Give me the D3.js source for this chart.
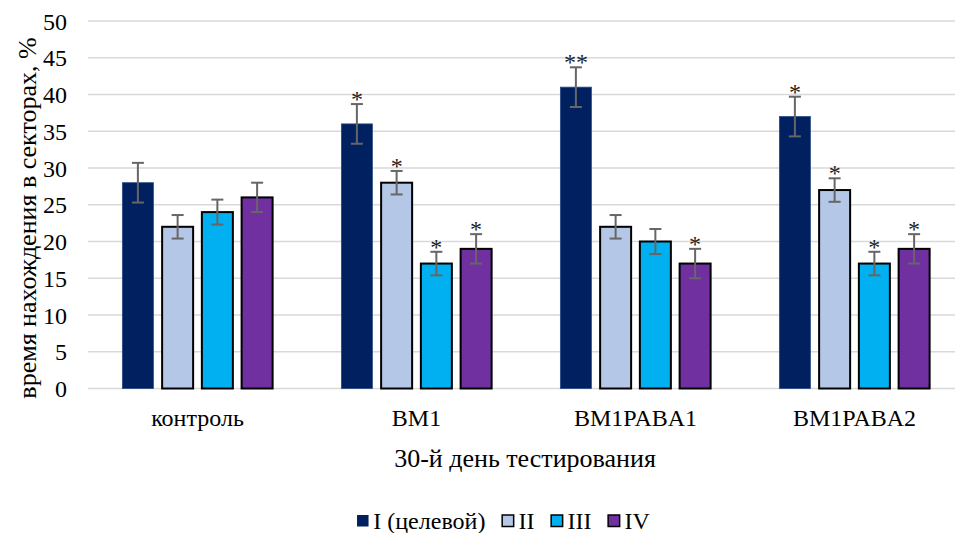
<!DOCTYPE html>
<html>
<head>
<meta charset="utf-8">
<script src="https://cdn.jsdelivr.net/npm/d3@7"></script>
<style>
  html, body { margin: 0; padding: 0; background: #fff; }
  svg { display: block; }
</style>
</head>
<body>
<svg id="chart" width="955" height="533"></svg>
<script>
// Groups on the x axis and the four sector series
const categories = ["контроль", "BM1", "BM1PABA1", "BM1PABA2"];
const seriesNames = ["I (целевой)", "II", "III", "IV"];

// Mean time in sector, %
const valuesI   = [28, 36, 41, 37];
const valuesII  = [22, 28, 22, 27];
const valuesIII = [24, 17, 20, 17];
const valuesIV  = [26, 19, 17, 19];

// Error (±) per bar
const errI   = [2.7, 2.7, 2.7, 2.7];
const errII  = [1.6, 1.6, 1.6, 1.6];
const errIII = [1.7, 1.6, 1.7, 1.6];
const errIV  = [2.0, 2.0, 2.0, 2.0];

// Significance marks above bars
const marksI   = ["", "*", "**", "*"];
const marksII  = ["", "*", "", "*"];
const marksIII = ["", "*", "", "*"];
const marksIV  = ["", "*", "*", "*"];

const yTicks = [0, 5, 10, 15, 20, 25, 30, 35, 40, 45, 50];
const yTitle = "время нахождения в секторах, %";
const xTitle = "30-й день тестирования";

const colors = ["#002060", "#B4C7E7", "#00B0F0", "#7030A0"];
const strokes = ["none", "#000", "#000", "#000"];

const allValues = [valuesI, valuesII, valuesIII, valuesIV];
const allErr = [errI, errII, errIII, errIV];
const allMarks = [marksI, marksII, marksIII, marksIV];

const serif = "Liberation Serif";

const svg = d3.select("#chart");
const plotLeft = 88, plotRight = 964, plotTop = 21, plotBottom = 388.5;

const y = d3.scaleLinear().domain([0, 50]).range([plotBottom, plotTop]);
const x0 = d3.scaleBand().domain(categories).range([plotLeft, plotRight]).padding(0);
const bw = x0.bandwidth();
const x1 = d3.scaleBand().domain(seriesNames)
  .range([bw * 0.157, bw * 0.843]).paddingInner(0.22).paddingOuter(0);

// Gridlines
svg.append("g").selectAll("line").data(yTicks).join("line")
  .attr("x1", plotLeft).attr("x2", 955)
  .attr("y1", d => y(d)).attr("y2", d => y(d))
  .attr("stroke", "#d9d9d9").attr("stroke-width", 1.6);

// Y tick labels
const yAxis = d3.axisLeft(y).tickValues(yTicks).tickSize(0).tickPadding(0);
const gy = svg.append("g").attr("transform", "translate(67,0)").call(yAxis);
gy.attr("font-family", serif).attr("font-size", 24);
gy.select(".domain").remove();
gy.selectAll("text").attr("fill", "#000").attr("dy", "0.34em");

// Bars
const rows = [];
categories.forEach((c, ci) => {
  seriesNames.forEach((s, si) => {
    rows.push({ c, s, si, v: allValues[si][ci], e: allErr[si][ci], m: allMarks[si][ci] });
  });
});

svg.append("g").selectAll("rect").data(rows).join("rect")
  .attr("x", d => x0(d.c) + x1(d.s))
  .attr("y", d => y(d.v))
  .attr("width", x1.bandwidth())
  .attr("height", d => y(0) - y(d.v))
  .attr("fill", d => colors[d.si])
  .attr("stroke", d => d.si === 0 ? "#2a4a85" : "#000")
  .attr("stroke-width", d => d.si === 0 ? 0.8 : 2);

// Error bars
const eb = svg.append("g").attr("stroke", "#666").attr("stroke-width", 2);
rows.forEach(d => {
  const cx = x0(d.c) + x1(d.s) + x1.bandwidth() / 2;
  const y1 = y(d.v + d.e), y2 = y(d.v - d.e);
  eb.append("line").attr("x1", cx).attr("x2", cx).attr("y1", y1).attr("y2", y2);
  eb.append("line").attr("x1", cx - 6).attr("x2", cx + 6).attr("y1", y1).attr("y2", y1);
  eb.append("line").attr("x1", cx - 6).attr("x2", cx + 6).attr("y1", y2).attr("y2", y2);
});

// Significance marks
svg.append("g").selectAll("text").data(rows.filter(d => d.m)).join("text")
  .attr("x", d => x0(d.c) + x1(d.s) + x1.bandwidth() / 2)
  .attr("y", d => y(d.v + d.e) + 3)
  .attr("text-anchor", "middle")
  .attr("font-family", serif)
  .attr("font-size", 24)
  .attr("fill", "#222")
  .text(d => d.m);

// Category labels
svg.append("g").selectAll("text").data(categories).join("text")
  .attr("x", d => x0(d) + bw / 2)
  .attr("y", 426)
  .attr("text-anchor", "middle")
  .attr("font-family", serif)
  .attr("font-size", 24)
  .text(d => d);

// Axis titles
svg.append("text")
  .attr("x", 525)
  .attr("y", 467)
  .attr("text-anchor", "middle")
  .attr("font-family", serif)
  .attr("font-size", 26)
  .text(xTitle);

svg.append("text")
  .attr("transform", "translate(36,218) rotate(-90)")
  .attr("text-anchor", "middle")
  .attr("font-family", serif)
  .attr("font-size", 26)
  .text(yTitle);

// Legend
const lg = svg.append("g");
let lx = 0;
seriesNames.forEach((s, i) => {
  const it = lg.append("g").attr("transform", `translate(${lx},0)`);
  it.append("rect").attr("x", 0.75).attr("y", -6).attr("width", 11.5).attr("height", 11.5)
    .attr("fill", colors[i])
    .attr("stroke", strokes[i]).attr("stroke-width", 1.5);
  const t = it.append("text").attr("x", 17).attr("y", 7.5)
    .attr("font-family", serif).attr("font-size", 24).text(s);
  const w = t.node().getComputedTextLength();
  lx += 17 + w + 16;
});
const totalW = lx - 16;
lg.attr("transform", `translate(${503 - totalW / 2},521)`);
</script>
</body>
</html>
